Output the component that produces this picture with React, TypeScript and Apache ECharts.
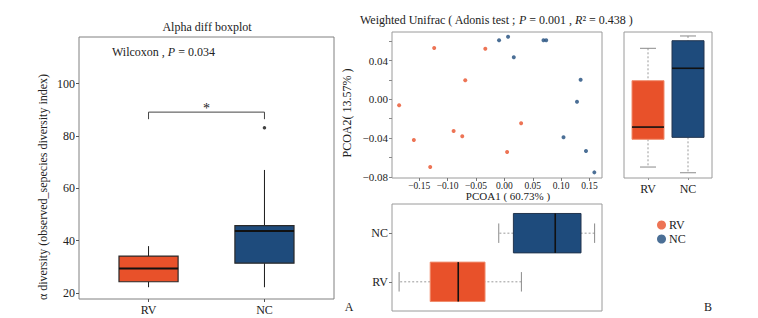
import React, { useEffect, useRef } from "react";
import * as echarts from "echarts";

const FONT = '"Liberation Serif", "Times New Roman", serif';
const ORANGE = "#E8512A";
const BLUE = "#1E4B7C";

const groups = ["RV", "NC"];
const groupColors = [ORANGE, BLUE];

// Alpha diversity boxplot: [min, Q1, median, Q3, max]
const alphaStats = [
  [22.2, 24.3, 29.4, 34.1, 37.9],
  [22.2, 31.4, 43.7, 45.7, 67.0],
];
const alphaOutliers = [[2, 83.1]];
const alphaTicks = [20, 40, 60, 80, 100];
const bracketX = [1, 1, 2, 2];
const bracketY = [86.4, 89.1, 89.1, 86.4];

// PCoA points [PCOA1, PCOA2]
const rvPoints = [
  [-0.1237, 0.0529],
  [-0.0336, 0.0522],
  [-0.0689, 0.0196],
  [-0.1855, -0.0062],
  [-0.1595, -0.042],
  [-0.0894, -0.0327],
  [-0.0742, -0.0381],
  [-0.1307, -0.0698],
  [0.0295, -0.0247],
  [0.0048, -0.0543],
];
const ncPoints = [
  [-0.0094, 0.0608],
  [0.0065, 0.0645],
  [0.0166, 0.0433],
  [0.0689, 0.0608],
  [0.0737, 0.0608],
  [0.1343, 0.0202],
  [0.1279, -0.0025],
  [0.1042, -0.0392],
  [0.1438, -0.0533],
  [0.1585, -0.0753],
];
const pcoaXTicks = [-0.15, -0.1, -0.05, 0, 0.05, 0.1, 0.15];
const pcoaYTicks = [-0.08, -0.06, -0.04, -0.02, 0, 0.02, 0.04, 0.06];
const pcoaYLabels = [-0.08, -0.04, 0, 0.04];

// Marginal boxplots: [min, Q1, median, Q3, max]
const pcoa2Stats = [
  [-0.0698, -0.0412, -0.0286, 0.0192, 0.0526],
  [-0.0757, -0.0392, 0.032, 0.0604, 0.0653],
];
const pcoa1Stats = [
  [-0.1855, -0.1307, -0.0813, -0.0341, 0.03],
  [-0.0099, 0.0159, 0.0896, 0.135, 0.159],
];

const fmt2 = (v: number) => (v < 0 ? "\u2212" : "") + Math.abs(v).toFixed(2);

function boxRenderer(opts: {
  horizontal: boolean;
  half: number;
  dotted: boolean;
  capHalf: number;
  borders: string[];
  medianWidth: number;
  borderWidth: number;
}) {
  return (params: any, api: any) => {
    const pos = api.value(0);
    const mn = api.value(1), q1 = api.value(2), med = api.value(3), q3 = api.value(4), mx = api.value(5);
    const pt = (p: number, v: number) => (opts.horizontal ? api.coord([v, p]) : api.coord([p, v]));
    const color = groupColors[params.dataIndex];
    const a = pt(pos - opts.half, q3);
    const b = pt(pos + opts.half, q1);
    const ln = (p1: number[], p2: number[], style: any) => ({
      type: "line",
      shape: { x1: p1[0], y1: p1[1], x2: p2[0], y2: p2[1] },
      style,
    });
    const wStyle = opts.dotted
      ? { stroke: "#9a9a9a", lineWidth: 1, lineDash: [2, 2] }
      : { stroke: "#1a1a1a", lineWidth: 1 };
    const children: any[] = [
      ln(pt(pos, mx), pt(pos, q3), wStyle),
      ln(pt(pos, q1), pt(pos, mn), wStyle),
    ];
    if (opts.capHalf > 0) {
      const cs = { stroke: "#8a8a8a", lineWidth: 1 };
      children.push(ln(pt(pos - opts.capHalf, mx), pt(pos + opts.capHalf, mx), cs));
      children.push(ln(pt(pos - opts.capHalf, mn), pt(pos + opts.capHalf, mn), cs));
    }
    children.push({
      type: "rect",
      shape: {
        x: Math.min(a[0], b[0]),
        y: Math.min(a[1], b[1]),
        width: Math.abs(b[0] - a[0]),
        height: Math.abs(b[1] - a[1]),
      },
      style: { fill: color, stroke: opts.borders[params.dataIndex], lineWidth: opts.borderWidth },
    });
    children.push(
      ln(pt(pos - opts.half, med), pt(pos + opts.half, med), {
        stroke: "#111",
        lineWidth: opts.medianWidth,
      })
    );
    return { type: "group", children };
  };
}

export default function App() {
  const ref = useRef<HTMLDivElement>(null);
  useEffect(() => {
    if (!ref.current) return;
    const chart = echarts.init(ref.current, undefined, { renderer: "svg" });
    const labelStyle = { fontFamily: FONT, color: "#222" };
    const hidden = { show: false };
    const noLine = { show: false, onZero: false };
    const option: any = {
      animation: false,
      textStyle: { fontFamily: FONT },
      grid: [
        { left: 79, top: 37, width: 255, height: 262, show: true, borderColor: "#808080", borderWidth: 1 },
        { left: 392, top: 32, width: 210, height: 146, show: true, borderColor: "#9a9a9a", borderWidth: 1 },
        { left: 624, top: 32, width: 88, height: 146, show: true, borderColor: "#9a9a9a", borderWidth: 1 },
        { left: 392, top: 204, width: 210, height: 107, show: true, borderColor: "#9a9a9a", borderWidth: 1 },
      ],
      xAxis: [
        {
          gridIndex: 0, type: "value", min: 0.4, max: 2.6,
          axisLine: noLine, splitLine: hidden,
          axisTick: { customValues: [1, 2], length: 3, lineStyle: { color: "#555" } },
          axisLabel: { ...labelStyle, customValues: [1, 2], fontSize: 12, margin: 5, formatter: (v: number) => groups[Math.round(v) - 1] },
        },
        {
          gridIndex: 1, type: "value", min: -0.198, max: 0.172,
          axisLine: noLine, splitLine: hidden,
          axisTick: { customValues: pcoaXTicks, length: 3, lineStyle: { color: "#777" } },
          axisLabel: { ...labelStyle, customValues: pcoaXTicks, fontSize: 9.5, margin: 3, formatter: fmt2 },
        },
        {
          gridIndex: 2, type: "value", min: 0.4, max: 2.6,
          axisLine: noLine, splitLine: hidden,
          axisTick: { customValues: [1, 2], length: 2, lineStyle: { color: "#999" } },
          axisLabel: { ...labelStyle, customValues: [1, 2], fontSize: 12, margin: 5, formatter: (v: number) => groups[Math.round(v) - 1] },
        },
        {
          gridIndex: 3, type: "value", min: -0.198, max: 0.172,
          axisLine: noLine, splitLine: hidden, axisTick: hidden, axisLabel: hidden,
        },
      ],
      yAxis: [
        {
          gridIndex: 0, type: "value", min: 17.7, max: 117.8,
          axisLine: noLine, splitLine: hidden,
          axisTick: { customValues: alphaTicks, length: 3, lineStyle: { color: "#555" } },
          axisLabel: { ...labelStyle, customValues: alphaTicks, fontSize: 12, margin: 4 },
        },
        {
          gridIndex: 1, type: "value", min: -0.0811, max: 0.0694,
          axisLine: noLine, splitLine: hidden,
          axisTick: { customValues: pcoaYTicks, length: 3, lineStyle: { color: "#888" } },
          axisLabel: { ...labelStyle, customValues: pcoaYLabels, fontSize: 11, margin: 4, formatter: fmt2 },
        },
        {
          gridIndex: 2, type: "value", min: -0.0811, max: 0.0694,
          axisLine: noLine, splitLine: hidden, axisTick: hidden, axisLabel: hidden,
        },
        {
          gridIndex: 3, type: "value", min: 0.4, max: 2.6,
          axisLine: noLine, splitLine: hidden,
          axisTick: { customValues: [1, 2], length: 3, lineStyle: { color: "#777" } },
          axisLabel: { ...labelStyle, customValues: [1, 2], fontSize: 12, margin: 4, formatter: (v: number) => groups[Math.round(v) - 1] },
        },
      ],
      legend: {
        data: groups.map((g) => ({ name: g, icon: "circle" })),
        orient: "vertical",
        left: 652,
        top: 214,
        padding: 5,
        itemWidth: 9,
        itemHeight: 9,
        itemGap: 2,
        textStyle: { fontFamily: FONT, fontSize: 12, color: "#222", lineHeight: 12, padding: [0, 0, 0, -2] },
      },
      series: [
        {
          type: "custom", name: "alphaBox", xAxisIndex: 0, yAxisIndex: 0,
          data: alphaStats.map((s, i) => [i + 1, ...s]),
          renderItem: boxRenderer({ horizontal: false, half: 0.255, dotted: false, capHalf: 0, borders: ["#2a2a2a", "#2a2a2a"], medianWidth: 2, borderWidth: 1.2 }),
        },
        {
          type: "scatter", name: "alphaOutlier", xAxisIndex: 0, yAxisIndex: 0,
          data: alphaOutliers, symbolSize: 3.5, itemStyle: { color: "#111" },
        },
        {
          type: "custom", name: "bracket", xAxisIndex: 0, yAxisIndex: 0,
          data: [[0]],
          renderItem: (_p: any, api: any) => {
            const pts = bracketX.map((x, i) => api.coord([x, bracketY[i]]));
            const mid = api.coord([(bracketX[0] + bracketX[3]) / 2, bracketY[1]]);
            return {
              type: "group",
              children: [
                { type: "polyline", shape: { points: pts }, style: { stroke: "#444", lineWidth: 1, fill: "none" } },
                { type: "text", x: mid[0], y: mid[1] + 3, style: { text: "*", fontFamily: FONT, fontSize: 14, fill: "#222", textAlign: "center", textVerticalAlign: "bottom" } },
              ],
            };
          },
        },
        {
          type: "scatter", name: "RV", xAxisIndex: 1, yAxisIndex: 1,
          data: rvPoints, symbolSize: 4, itemStyle: { color: ORANGE },
        },
        {
          type: "scatter", name: "NC", xAxisIndex: 1, yAxisIndex: 1,
          data: ncPoints, symbolSize: 4, itemStyle: { color: BLUE },
        },
        {
          type: "custom", name: "pcoa2Box", xAxisIndex: 2, yAxisIndex: 2,
          data: pcoa2Stats.map((s, i) => [i + 1, ...s]),
          renderItem: boxRenderer({ horizontal: false, half: 0.4, dotted: true, capHalf: 0.2, borders: ["#F08C6C", "#22354f"], medianWidth: 1.6, borderWidth: 1 }),
        },
        {
          type: "custom", name: "pcoa1Box", xAxisIndex: 3, yAxisIndex: 3,
          data: pcoa1Stats.map((s, i) => [i + 1, ...s]),
          renderItem: boxRenderer({ horizontal: true, half: 0.405, dotted: true, capHalf: 0.2, borders: ["#F08C6C", "#22354f"], medianWidth: 1.6, borderWidth: 1 }),
        },
      ],
      graphic: [
        { type: "text", x: 207, y: 27, style: { text: "Alpha diff boxplot", fontFamily: FONT, fontSize: 12, fill: "#222", textAlign: "center", textVerticalAlign: "middle" } },
        {
          type: "text", x: 112, y: 52,
          style: {
            text: "{n|Wilcoxon , }{i|P}{n| = 0.034}",
            textAlign: "left", textVerticalAlign: "middle",
            rich: {
              n: { fontFamily: FONT, fontSize: 12, fill: "#222" },
              i: { fontFamily: FONT, fontSize: 12, fill: "#222", fontStyle: "italic" },
            },
          },
        },
        { type: "text", x: 43, y: 187, rotation: Math.PI / 2, style: { text: "\u03b1 diversity (observed_sepecies diversity index)", fontFamily: FONT, fontSize: 12, fill: "#222", textAlign: "center", textVerticalAlign: "middle" } },
        {
          type: "text", x: 360, y: 20,
          style: {
            text: "{n|Weighted Unifrac ( Adonis test ; }{i|P}{n| = 0.001 , }{i|R}{n|\u00b2 = 0.438 )}",
            textAlign: "left", textVerticalAlign: "middle",
            rich: {
              n: { fontFamily: FONT, fontSize: 12, fill: "#222" },
              i: { fontFamily: FONT, fontSize: 12, fill: "#222", fontStyle: "italic" },
            },
          },
        },
        { type: "text", x: 508, y: 196, style: { text: "PCOA1 ( 60.73% )", fontFamily: FONT, fontSize: 11, fill: "#222", textAlign: "center", textVerticalAlign: "middle" } },
        { type: "text", x: 347, y: 113, rotation: Math.PI / 2, style: { text: "PCOA2( 13.57% )", fontFamily: FONT, fontSize: 12, fill: "#222", textAlign: "center", textVerticalAlign: "middle" } },
        { type: "text", x: 349, y: 307, style: { text: "A", fontFamily: FONT, fontSize: 12, fill: "#222", textAlign: "center", textVerticalAlign: "middle" } },
        { type: "text", x: 708, y: 307, style: { text: "B", fontFamily: FONT, fontSize: 12, fill: "#222", textAlign: "center", textVerticalAlign: "middle" } },
      ],
    };
    chart.setOption(option);
    return () => chart.dispose();
  }, []);
  return (
    <div
      ref={ref}
      style={{ position: "fixed", left: 0, top: 0, width: 758, height: 318, background: "#fff" }}
    />
  );
}
